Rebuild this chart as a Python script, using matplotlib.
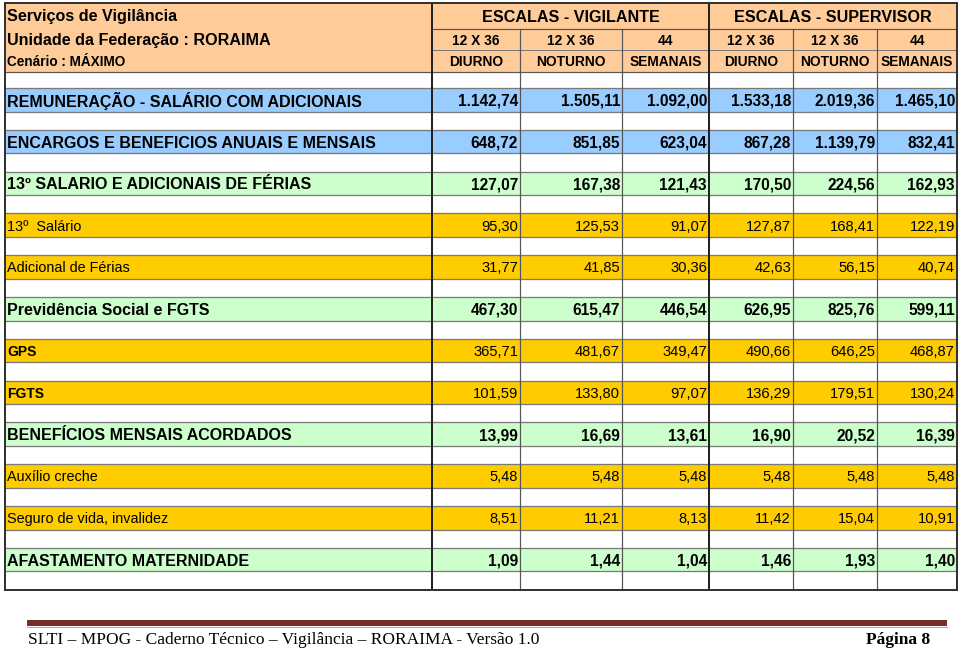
import matplotlib
matplotlib.use("Agg")
import matplotlib.pyplot as plt
from matplotlib.patches import Rectangle

plt.rcParams['font.family'] = ['Liberation Sans', 'DejaVu Sans']

# ---------------- data ----------------
title_lines = ["Serviços de Vigilância", "Unidade da Federação : RORAIMA", "Cenário : MÁXIMO"]
group_labels = ["ESCALAS - VIGILANTE", "ESCALAS - SUPERVISOR"]
col_top = ["12 X 36", "12 X 36", "44", "12 X 36", "12 X 36", "44"]
col_bottom = ["DIURNO", "NOTURNO", "SEMANAIS", "DIURNO", "NOTURNO", "SEMANAIS"]

row_labels = [
    "REMUNERAÇÃO - SALÁRIO COM ADICIONAIS",
    "ENCARGOS E BENEFICIOS ANUAIS E MENSAIS",
    "13º SALARIO E ADICIONAIS DE FÉRIAS",
    "13º  Salário",
    "Adicional de Férias",
    "Previdência Social e FGTS",
    "GPS",
    "FGTS",
    "BENEFÍCIOS MENSAIS ACORDADOS",
    "Auxílio creche",
    "Seguro de vida, invalidez",
    "AFASTAMENTO MATERNIDADE",
]
row_kind = ["blue", "blue", "green", "orange", "orange", "green",
            "orange", "orange", "green", "orange", "orange", "green"]
label_style = ["main", "main", "main", "sub", "sub", "main",
               "small", "small", "main", "sub", "sub", "main"]

vig_12x36_diurno = [1142.74, 648.72, 127.07, 95.30, 31.77, 467.30, 365.71, 101.59, 13.99, 5.48, 8.51, 1.09]
vig_12x36_noturno = [1505.11, 851.85, 167.38, 125.53, 41.85, 615.47, 481.67, 133.80, 16.69, 5.48, 11.21, 1.44]
vig_44_semanais = [1092.00, 623.04, 121.43, 91.07, 30.36, 446.54, 349.47, 97.07, 13.61, 5.48, 8.13, 1.04]
sup_12x36_diurno = [1533.18, 867.28, 170.50, 127.87, 42.63, 626.95, 490.66, 136.29, 16.90, 5.48, 11.42, 1.46]
sup_12x36_noturno = [2019.36, 1139.79, 224.56, 168.41, 56.15, 825.76, 646.25, 179.51, 20.52, 5.48, 15.04, 1.93]
sup_44_semanais = [1465.10, 832.41, 162.93, 122.19, 40.74, 599.11, 468.87, 130.24, 16.39, 5.48, 10.91, 1.40]
columns = [vig_12x36_diurno, vig_12x36_noturno, vig_44_semanais,
           sup_12x36_diurno, sup_12x36_noturno, sup_44_semanais]

footer_left = "SLTI – MPOG - Caderno Técnico – Vigilância – RORAIMA - Versão 1.0"
footer_right = "Página 8"

# ---------------- layout / style ----------------
W, H = 960, 653
colors = {"blue": "#99CCFF", "green": "#CCFFCC", "orange": "#FFCC00", "header": "#FFCC99"}
x_left, x_right = 5, 957
col_edges = [432, 520, 622, 709, 793, 877, 957]
y_top, y_h1, y_h2, y_head = 3, 29, 50, 72
first_row_top, pitch, row_h = 88, 41.8, 23.5
y_bottom = 590

def fmt(v):
    s = f"{v:,.2f}"
    return s.replace(",", "X").replace(".", ",").replace("X", ".")

fig = plt.figure(figsize=(W / 100, H / 100), dpi=100)
ax = fig.add_axes([0, 0, 1, 1])
ax.set_xlim(0, W)
ax.set_ylim(H, 0)
ax.axis("off")

px = 0.72
# header background
ax.add_patch(Rectangle((x_left, y_top), x_right - x_left, y_head - y_top,
                       facecolor=colors["header"], edgecolor="none", zorder=1))

# colored rows
for i, kind in enumerate(row_kind):
    top = first_row_top + i * pitch
    ax.add_patch(Rectangle((x_left, top), x_right - x_left, row_h,
                           facecolor=colors[kind], edgecolor="none", zorder=1))
    for yy in (top, top + row_h):
        ax.plot([x_left, x_right], [yy, yy], color="#7a7a7a", lw=1.3 * px, zorder=3)

# header lines
ax.plot([col_edges[0], x_right], [y_h1, y_h1], color="#555555", lw=1.2 * px, zorder=3)
ax.plot([col_edges[0], x_right], [y_h2, y_h2], color="#777777", lw=1.0 * px, zorder=3)
ax.plot([x_left, x_right], [y_head, y_head], color="#555555", lw=1.2 * px, zorder=3)

# vertical lines
for j, xe in enumerate(col_edges[:-1]):
    thick = xe in (432, 709)
    y0 = y_top if thick else y_h1
    ax.plot([xe, xe], [y0, y_bottom], color="#222222" if thick else "#555555",
            lw=(2.0 if thick else 1.2) * px, zorder=4)

# outer border
ax.add_patch(Rectangle((x_left, y_top), x_right - x_left, y_bottom - y_top,
                       facecolor="none", edgecolor="#333333", lw=2.0 * px, zorder=5))

# header texts
ax.text(7, 17, title_lines[0], fontsize=11.6, fontweight="bold", va="center", ha="left", zorder=6)
ax.text(7, 41, title_lines[1], fontsize=11.6, fontweight="bold", va="center", ha="left", zorder=6)
ax.text(7, 62, title_lines[2], fontsize=9.8, fontweight="bold", va="center", ha="left", zorder=6)
ax.text((col_edges[0] + col_edges[3]) / 2, 17, group_labels[0], fontsize=11.6,
        fontweight="bold", ha="center", va="center", zorder=6)
ax.text((col_edges[3] + col_edges[6]) / 2, 17, group_labels[1], fontsize=11.6,
        fontweight="bold", ha="center", va="center", zorder=6)
for j in range(6):
    cx = (col_edges[j] + col_edges[j + 1]) / 2
    ax.text(cx, 41, col_top[j], fontsize=9.9, fontweight="bold", ha="center", va="center", zorder=6)
    ax.text(cx, 62, col_bottom[j], fontsize=9.9, fontweight="bold", ha="center", va="center", zorder=6)

# body texts
label_fs = {"main": (11.5, "bold"), "sub": (10.4, "normal"), "small": (10.0, "bold")}
for i, lab in enumerate(row_labels):
    cy = first_row_top + i * pitch + row_h / 2 + 1.5
    fs, fw = label_fs[label_style[i]]
    ax.text(7, cy, lab, fontsize=fs, fontweight=fw, ha="left", va="center", zorder=6)
    vfs, vfw = (11.2, "bold") if row_kind[i] != "orange" else (10.6, "normal")
    for j, col in enumerate(columns):
        ax.text(col_edges[j + 1] - 2, cy, fmt(col[i]), fontsize=vfs, fontweight=vfw,
                ha="right", va="center", zorder=6)

# footer
ax.add_patch(Rectangle((27, 620), 947 - 27, 6, facecolor="#772D2A", edgecolor="none", zorder=2))
ax.plot([27, 947], [627, 627], color="#b9a9a6", lw=1.0 * px, zorder=2)
ax.text(28, 640, footer_left, fontsize=12.5, family=["Liberation Serif", "DejaVu Serif"],
        ha="left", va="center", zorder=6)
ax.text(930, 640, footer_right, fontsize=12.5, fontweight="bold",
        family=["Liberation Serif", "DejaVu Serif"], ha="right", va="center", zorder=6)

fig.savefig("out.png", dpi=100, facecolor="white")
